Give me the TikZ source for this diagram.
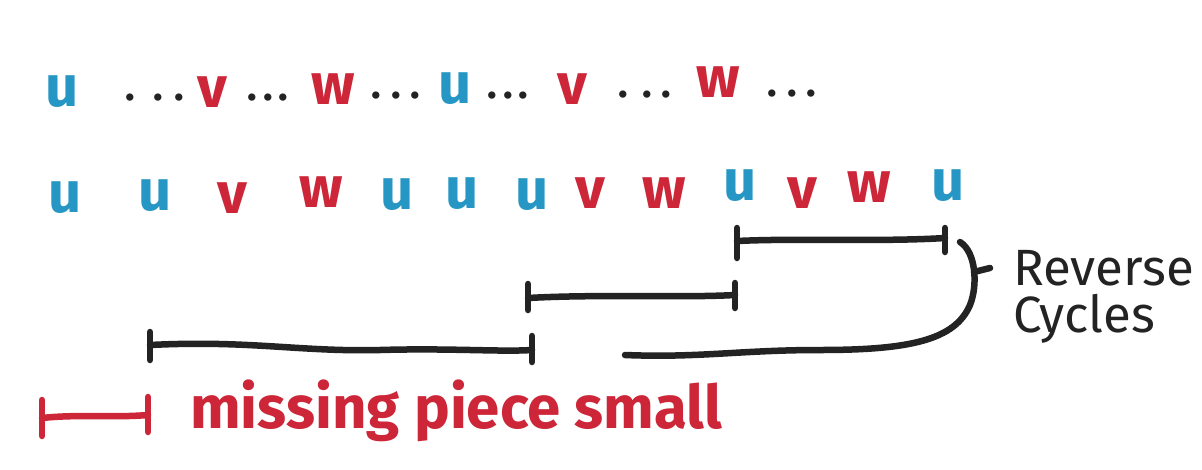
\documentclass[tikz,border=0pt]{standalone}
\usepackage{fontspec}
\setmainfont{Fira Sans}
\definecolor{ublue}{RGB}{38,150,196}
\definecolor{mred}{RGB}{204,38,56}
\definecolor{ink}{RGB}{35,35,35}
\begin{document}
\begin{tikzpicture}[x=1pt,y=-1pt,
  letb/.style={text=ublue,font=\fontsize{58}{58}\selectfont\bfseries,inner sep=0pt,anchor=base},
  letr/.style={text=mred,font=\fontsize{58}{58}\selectfont\bfseries,inner sep=0pt,anchor=base},
  dotsty/.style={text=ink,font=\fontsize{40}{40}\selectfont\bfseries,inner sep=0pt,anchor=base},
  bar/.style={draw=ink,line width=6.5pt,line cap=round},
  redbar/.style={draw=mred,line width=6.5pt,line cap=round},
  lbl/.style={text=ink,font=\fontsize{51}{51}\selectfont,inner sep=0pt,anchor=base west},
  redlbl/.style={text=mred,font=\fontsize{60}{60}\selectfont\bfseries,inner sep=0pt,anchor=base west}
]
\useasboundingbox[fill=white] (0,0) rectangle (1202,469);
% row 1
\node[letb] (a1) at (62,106) {u};
\node[dotsty] (d1) at (155,100) {.\hspace{18pt}.\hspace{12pt}.};
\node[letr] (a2) at (212,107) {v};
\node[dotsty] (d2) at (268,100) {.\hspace{6pt}.\hspace{6pt}.};
\node[letr] (a3) at (333,104) {w};
\node[dotsty] (d3) at (396,98) {.\hspace{10pt}.\hspace{10pt}.};
\node[letb] (a4) at (455,103) {u};
\node[dotsty] (d4) at (508,98) {.\hspace{6pt}.\hspace{6pt}.};
\node[letr] (a5) at (572,104) {v};
\node[dotsty] (d5) at (645,97) {.\hspace{14pt}.\hspace{10pt}.};
\node[letr] (a6) at (718,97) {w};
\node[dotsty] (d6) at (792,96) {.\hspace{10pt}.\hspace{10pt}.};
% row 2
\node[letb] (b1) at (65,212) {u};
\node[letb] (b2) at (155,210) {u};
\node[letr] (b3) at (232,213) {v};
\node[letr] (b4) at (321,207) {w};
\node[letb] (b5) at (397,209) {u};
\node[letb] (b6) at (462,208) {u};
\node[letb] (b7) at (532,209) {u};
\node[letr] (b8) at (590,208) {v};
\node[letr] (b9) at (664,208) {w};
\node[letb] (b10) at (740,200) {u};
\node[letr] (b11) at (802,208) {v};
\node[letr] (b12) at (869,202) {w};
\node[letb] (b13) at (948,200) {u};
% brackets
\draw[bar] (737,228) -- (737,258);
\draw[bar] (945,228) -- (945,252);
\draw[bar] (737,241) .. controls (800,238) and (880,242) .. (945,238);
\draw[bar] (528,284) -- (528,310);
\draw[bar] (735,283) -- (735,308);
\draw[bar] (528,298) .. controls (600,294) and (680,298) .. (735,295);
\draw[bar] (150,332) -- (150,360);
\draw[bar] (532,336) -- (532,362);
\draw[bar] (150,345) .. controls (250,340) and (300,352) .. (380,350) .. controls (450,348) and (500,352) .. (532,350);
% reverse cycles brace
\draw[bar] (960,242) .. controls (976,252) and (978,285) .. (970,305) .. controls (955,340) and (910,350) .. (820,350) .. controls (740,350) and (700,358) .. (625,355);
\draw[bar] (974,272) -- (990,268);
\node[lbl] (t1) at (1013,285) {Reverse};
\node[lbl] (t2) at (1013,332) {Cycles};
% missing piece
\draw[redbar] (42,400) -- (42,436);
\draw[redbar] (148,397) -- (148,432);
\draw[redbar] (42,418) .. controls (80,414) and (110,418) .. (148,415);
\node[redlbl] (t3) at (190,428) {missing piece small};
\end{tikzpicture}
\end{document}
